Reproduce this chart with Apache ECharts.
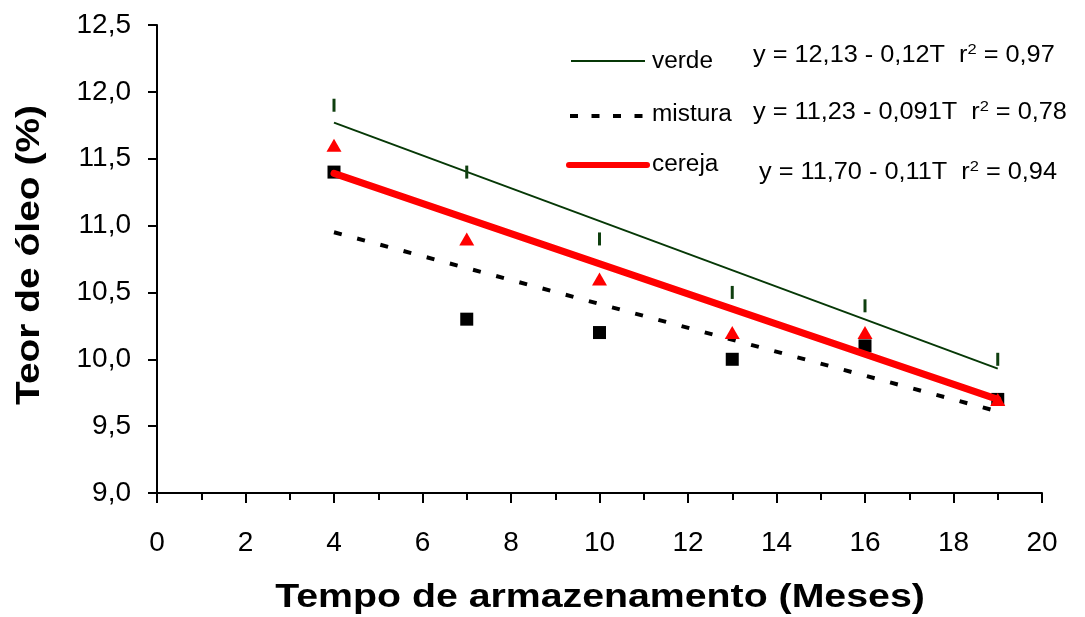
<!DOCTYPE html>
<html>
<head>
<meta charset="utf-8">
<script src="https://cdn.jsdelivr.net/npm/echarts@6/dist/echarts.min.js"></script>
<style>
  html, body { margin: 0; padding: 0; background: #fff; }
  #chart { width: 1085px; height: 617px; }
</style>
</head>
<body>
<div id="chart"></div>
<script>
// Storage time (months) at which oil content was measured
const meses = [4, 7, 10, 13, 16, 19];

// Oil content (%) per coffee type
const verde   = [11.9, 11.4, 10.9, 10.5, 10.4, 10.0];
const mistura = [11.4, 10.3, 10.2, 10.0, 10.1, 9.7];
const cereja  = [11.6, 10.9, 10.6, 10.2, 10.2, 9.7];

// Fitted trend lines, drawn between the first and last storage time
const tendVerde   = [11.77, 9.93];
const tendMistura = [10.95, 9.61];
const tendCereja  = [11.39, 9.70];

// Regression equations shown beside the key
const equacoes = [
  ['y = 12,13 - 0,12T  r', '2', ' = 0,97'],
  ['y = 11,23 - 0,091T  r', '2', ' = 0,78'],
  ['y = 11,70 - 0,11T  r', '2', ' = 0,94']
];
const nomes = ['verde', 'mistura', 'cereja'];

const yTicks = { min: 9, max: 12.5, step: 0.5 };
const xTicks = { min: 0, max: 20, step: 2 };

const FONT = '"Liberation Sans", Arial, sans-serif';
const VERDE_COR = '#063806';

const pares = (ys) => meses.map((m, i) => [m, ys[i]]);
const ponta = (ys) => [[meses[0], ys[0]], [meses[meses.length - 1], ys[1]]];
const virgula = (v, d) => v.toFixed(d).replace('.', ',');

const chart = echarts.init(document.getElementById('chart'), null, { renderer: 'canvas' });

// Key: sample line + name + equation, one row per coffee type
const linhas = [
  { y: 61, stroke: VERDE_COR, w: 2, dash: null, x1: 571, x2: 645, ty: 62, ey: 56, ex: 753 },
  { y: 116, stroke: '#000', w: 4, dash: [8, 13.5], x1: 570, x2: 648, ty: 115, ey: 113, ex: 753 },
  { y: 165, stroke: '#ff0000', w: 6, dash: null, x1: 569, x2: 647, ty: 165, ey: 173, ex: 759 }
];

const graficos = [];
linhas.forEach((l, i) => {
  graficos.push({
    type: 'line',
    shape: { x1: l.x1, y1: l.y, x2: l.x2, y2: l.y },
    style: { stroke: l.stroke, lineWidth: l.w, lineDash: l.dash || null, lineCap: i === 2 ? 'round' : 'butt' }
  });
  graficos.push({
    type: 'text', x: 652, y: l.ty, scaleX: 1.06,
    style: { text: nomes[i], font: '23px ' + FONT, fill: '#000', textAlign: 'left', textVerticalAlign: 'middle' }
  });
  const eq = equacoes[i];
  graficos.push({
    type: 'text', x: l.ex, y: l.ey, scaleX: 1.1,
    style: {
      text: eq[0] + '{s|' + eq[1] + '}' + eq[2],
      font: '23px ' + FONT, fill: '#000', textAlign: 'left', textVerticalAlign: 'middle',
      lineHeight: 27,
      rich: { s: { fontSize: 15, fontFamily: FONT, lineHeight: 15, verticalAlign: 'top', fill: '#000' } }
    }
  });
});

// Axis titles (stretched slightly to the typeface width used in the figure)
graficos.push({
  type: 'text', x: 600, y: 598, scaleX: 1.19,
  style: { text: 'Tempo de armazenamento (Meses)', font: 'bold 33px ' + FONT, fill: '#000', textAlign: 'center', textVerticalAlign: 'middle' }
});
graficos.push({
  type: 'text', x: 30, y: 255, rotation: Math.PI / 2, scaleX: 1.18,
  style: { text: 'Teor de óleo (%)', font: 'bold 33px ' + FONT, fill: '#000', textAlign: 'center', textVerticalAlign: 'middle' }
});

const option = {
  animation: false,
  backgroundColor: '#fff',
  grid: { left: 157, right: 43, top: 25, bottom: 124, containLabel: false },
  xAxis: {
    type: 'value', min: xTicks.min, max: xTicks.max, interval: xTicks.step,
    axisLine: { lineStyle: { color: '#000', width: 2 } },
    axisTick: { show: true, inside: false, length: 10, lineStyle: { color: '#000', width: 2 } },
    minorTick: { show: true, splitNumber: 2, length: 7, lineStyle: { color: '#000', width: 2 } },
    splitLine: { show: false },
    axisLabel: { fontFamily: FONT, fontSize: 28, color: '#000', margin: 36, formatter: (v) => String(v) }
  },
  yAxis: {
    type: 'value', min: yTicks.min, max: yTicks.max, interval: yTicks.step,
    axisLine: { show: true, lineStyle: { color: '#000', width: 2 } },
    axisTick: { show: true, inside: false, length: 9, lineStyle: { color: '#000', width: 2 } },
    splitLine: { show: false },
    axisLabel: { fontFamily: FONT, fontSize: 28, color: '#000', margin: 26, formatter: (v) => virgula(v, 1) }
  },
  graphic: graficos,
  series: [
    {
      name: 'mistura', type: 'scatter', data: pares(mistura), z: 2,
      symbol: 'rect', symbolSize: 13, itemStyle: { color: '#000', opacity: 1 }
    },
    {
      name: 'cereja (tendência)', type: 'line', data: ponta(tendCereja), z: 3,
      showSymbol: false, symbol: 'none',
      lineStyle: { color: '#ff0000', width: 7, cap: 'round' }
    },
    {
      name: 'cereja', type: 'scatter', data: pares(cereja), z: 4,
      symbol: 'triangle', symbolSize: [15, 13], itemStyle: { color: '#ff0000', opacity: 1 }
    },
    {
      name: 'mistura (tendência)', type: 'line', data: ponta(tendMistura), z: 4,
      showSymbol: false, symbol: 'none',
      lineStyle: { color: '#000', width: 4, type: [8, 16] }
    },
    {
      name: 'verde', type: 'scatter', data: pares(verde), z: 5,
      symbol: 'rect', symbolSize: [3, 13], itemStyle: { color: '#0f3f0f', opacity: 1 }
    },
    {
      name: 'verde (tendência)', type: 'line', data: ponta(tendVerde), z: 5,
      showSymbol: false, symbol: 'none',
      lineStyle: { color: VERDE_COR, width: 2 }
    }
  ]
};

chart.setOption(option);
</script>
</body>
</html>
